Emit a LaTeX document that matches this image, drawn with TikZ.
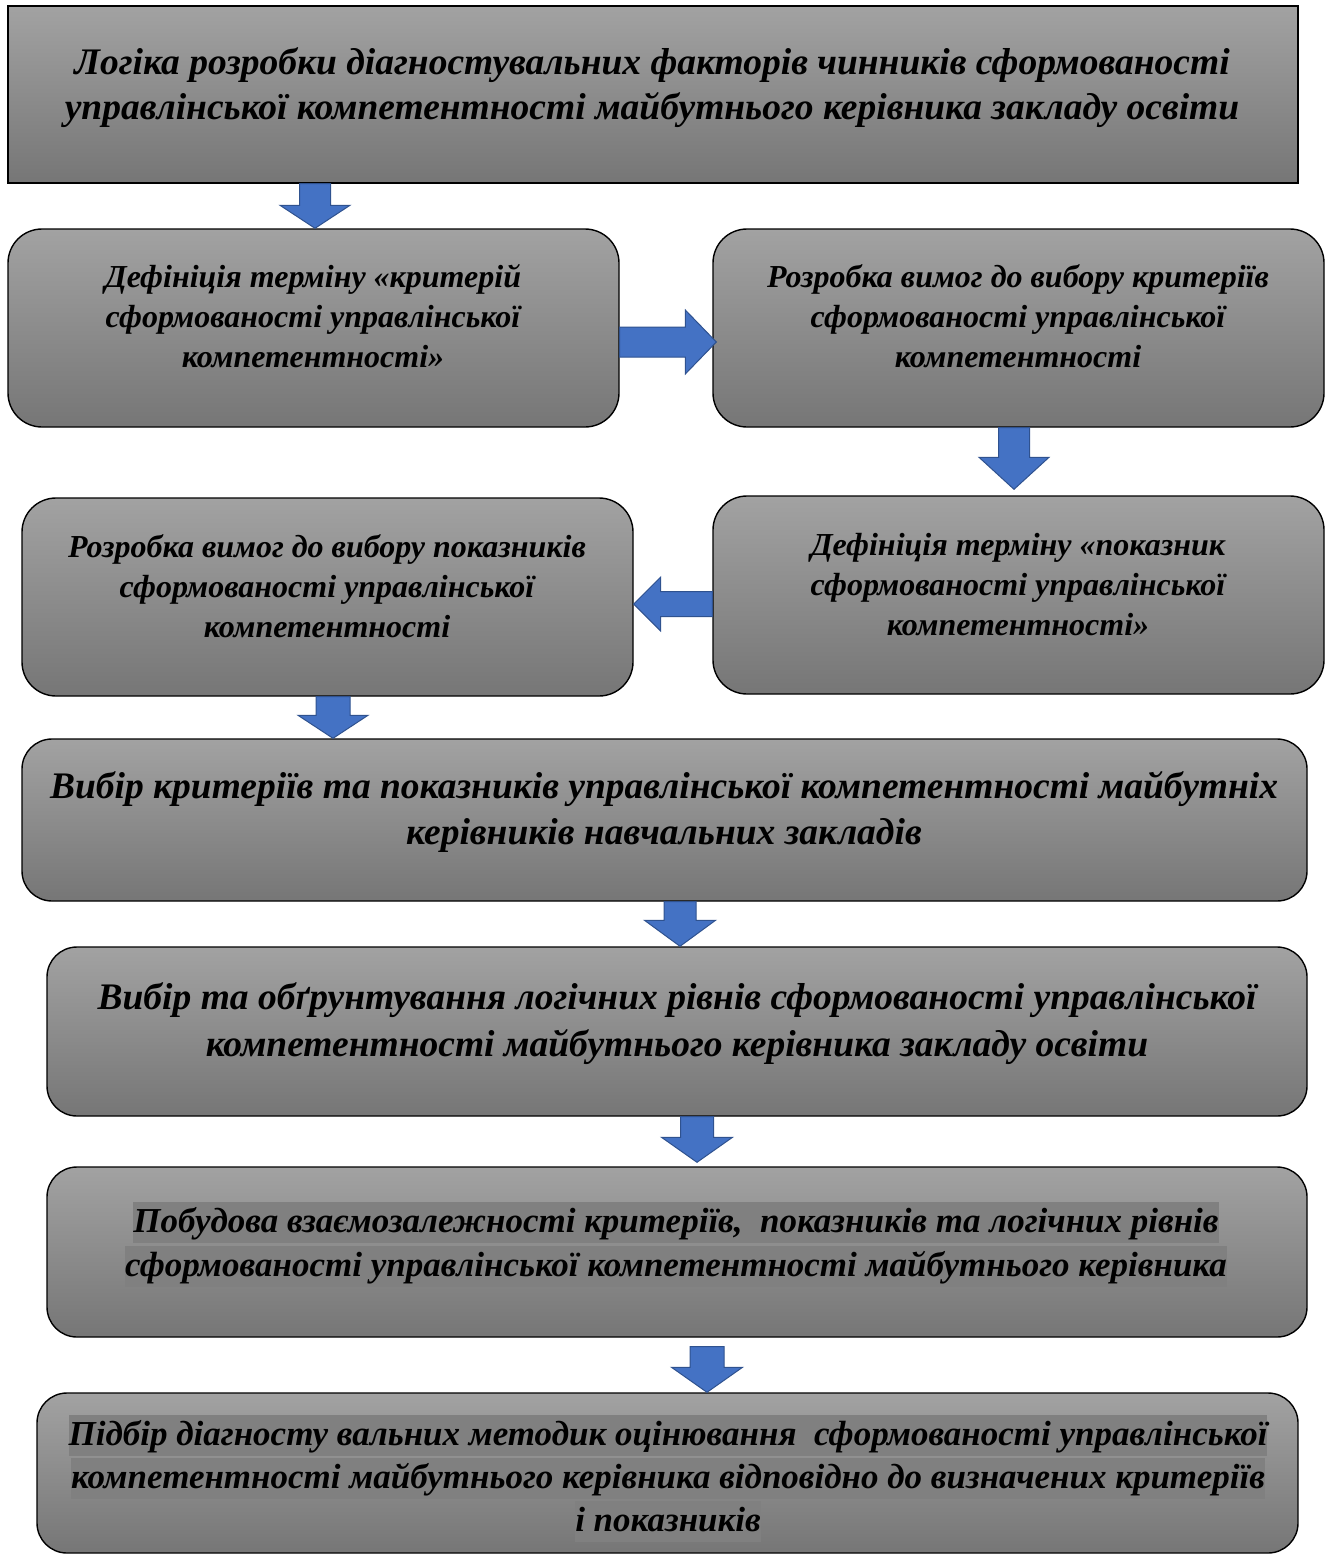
\documentclass[tikz,border=0pt]{standalone}
\usepackage{fontspec}
\setmainfont{Liberation Serif}
\usetikzlibrary{calc}
\definecolor{boxtop}{RGB}{162,162,162}
\definecolor{boxbot}{RGB}{118,118,118}
\definecolor{arrfill}{RGB}{68,114,196}
\definecolor{arrline}{RGB}{47,82,143}
\definecolor{hlgray}{RGB}{128,128,128}
\tikzset{
  box/.style={draw=black, line width=1.4pt, top color=boxtop, bottom color=boxbot, inner sep=0pt},
  rbox/.style={box, rounded corners=34pt},
  ebox/.style={box, rounded corners=30pt},
  txt/.style={align=center, inner sep=0pt},
  blk/.style={fill=arrfill, draw=arrline, line width=1pt, line join=miter},
}
\newcommand\hlline[1]{{\setlength{\fboxsep}{0pt}\colorbox{hlgray}{\rule[-10pt]{0pt}{41pt}#1}}}
% down block arrow: from, to, x, shaft half, head half, head length, gap at top, gap at tip
\newcommand\darrow[8]{%
  \draw[blk] let \p1=(#3,0 |- #1.south), \p2=(#3,0 |- #2.north) in
    (\x1-#4pt,\y1-#7pt) -- (\x1+#4pt,\y1-#7pt) -- (\x1+#4pt,\y2+#6pt+#8pt) -- (\x1+#5pt,\y2+#6pt+#8pt)
    -- (\x1,\y2+#8pt) -- (\x1-#5pt,\y2+#6pt+#8pt) -- (\x1-#4pt,\y2+#6pt+#8pt) -- cycle;}
% right block arrow: from, to, y, shaft half, head half, head length, overlap
\newcommand\rarrow[7]{%
  \draw[blk] let \p1=(#1.east |- 0,#3), \p2=(#2.west |- 0,#3) in
    (\x1,\y1+#4pt) -- (\x2-#6pt+#7pt,\y1+#4pt) -- (\x2-#6pt+#7pt,\y1+#5pt) -- (\x2+#7pt,\y1)
    -- (\x2-#6pt+#7pt,\y1-#5pt) -- (\x2-#6pt+#7pt,\y1-#4pt) -- (\x1,\y1-#4pt) -- cycle;}
% left block arrow: from, to, y, shaft half, head half, head length
\newcommand\larrow[6]{%
  \draw[blk] let \p1=(#1.west |- 0,#3), \p2=(#2.east |- 0,#3) in
    (\x1,\y1+#4pt) -- (\x2+#6pt,\y1+#4pt) -- (\x2+#6pt,\y1+#5pt) -- (\x2,\y1)
    -- (\x2+#6pt,\y1-#5pt) -- (\x2+#6pt,\y1-#4pt) -- (\x1,\y1-#4pt) -- cycle;}
\begin{document}
\begin{tikzpicture}[x=1pt,y=-1pt]
\useasboundingbox (0,0) rectangle (1333,1555);
% boxes
\node[box, minimum width=1290pt, minimum height=177pt] (n1) at (653,94.5) {};
\node[rbox, minimum width=611pt, minimum height=198pt] (nA) at (313.5,328) {};
\node[rbox, minimum width=611pt, minimum height=198pt] (nB) at (1018.5,328) {};
\node[rbox, minimum width=611pt, minimum height=198pt] (nC) at (327.5,597) {};
\node[rbox, minimum width=611pt, minimum height=198pt] (nD) at (1018.5,595) {};
\node[ebox, minimum width=1285pt, minimum height=162pt] (nE) at (664.5,820) {};
\node[ebox, minimum width=1260pt, minimum height=169pt] (nF) at (677,1031.5) {};
\node[ebox, minimum width=1260pt, minimum height=170pt] (nG) at (677,1252) {};
\node[ebox, minimum width=1261pt, minimum height=160pt] (nH) at (667.5,1473) {};
% texts
\node[txt, font=\fontsize{37.5}{45}\selectfont\bfseries\itshape] (t1) at (652,88)
  {Логіка розробки діагностувальних факторів чинників сформованості\\управлінської компетентності майбутнього керівника закладу освіти};
\node[txt, font=\fontsize{32}{40}\selectfont\bfseries\itshape] (tA) at (313,316)
  {Дефініція терміну «критерій\\сформованості управлінської\\компетентності»};
\node[txt, font=\fontsize{32}{40}\selectfont\bfseries\itshape] (tB) at (1018,316)
  {Розробка вимог до вибору критеріїв\\сформованості управлінської\\компетентності};
\node[txt, font=\fontsize{32}{40}\selectfont\bfseries\itshape] (tC) at (327,586)
  {Розробка вимог до вибору показників\\сформованості управлінської\\компетентності};
\node[txt, font=\fontsize{32}{40}\selectfont\bfseries\itshape] (tD) at (1018,585)
  {Дефініція терміну «показник\\сформованості управлінської\\компетентності»};
\node[txt, font=\fontsize{37.5}{46}\selectfont\bfseries\itshape] (tE) at (664,811.5)
  {Вибір критеріїв та показників управлінської компетентності майбутніх\\керівників навчальних закладів};
\node[txt, font=\fontsize{37.5}{47}\selectfont\bfseries\itshape] (tF) at (677,1024)
  {Вибір та обґрунтування логічних рівнів сформованості управлінської\\компетентності майбутнього керівника закладу освіти};
\node[txt, font=\fontsize{35}{44}\selectfont\bfseries\itshape] (tG) at (676,1244)
  {\hlline{Побудова взаємозалежності критеріїв,\ \ показників та логічних рівнів}\\\hlline{сформованості управлінської компетентності майбутнього керівника}};
\node[txt, font=\fontsize{35}{43}\selectfont\bfseries\itshape] (tH) at (668,1478)
  {\hlline{Підбір діагносту вальних методик оцінювання\ \ сформованості управлінської}\\\hlline{компетентності майбутнього керівника відповідно до визначених критеріїв}\\\hlline{і показників}};
% arrows
\darrow{n1}{nA}{315}{15.5}{35}{23}{0}{0}
\rarrow{nA}{nB}{342}{15}{32}{31}{4}
\darrow{nB}{nD}{1014}{15.5}{35}{32}{0}{6}
\larrow{nD}{nC}{604}{12.5}{27}{27}
\darrow{nC}{nE}{333}{17}{35}{23}{0}{0}
\darrow{nE}{nF}{680}{16}{35.5}{26}{0}{0}
\darrow{nF}{nG}{697}{16.5}{35.5}{25}{0}{4}
\darrow{nG}{nH}{707}{17}{35.5}{25}{9}{0}
\end{tikzpicture}
\end{document}
